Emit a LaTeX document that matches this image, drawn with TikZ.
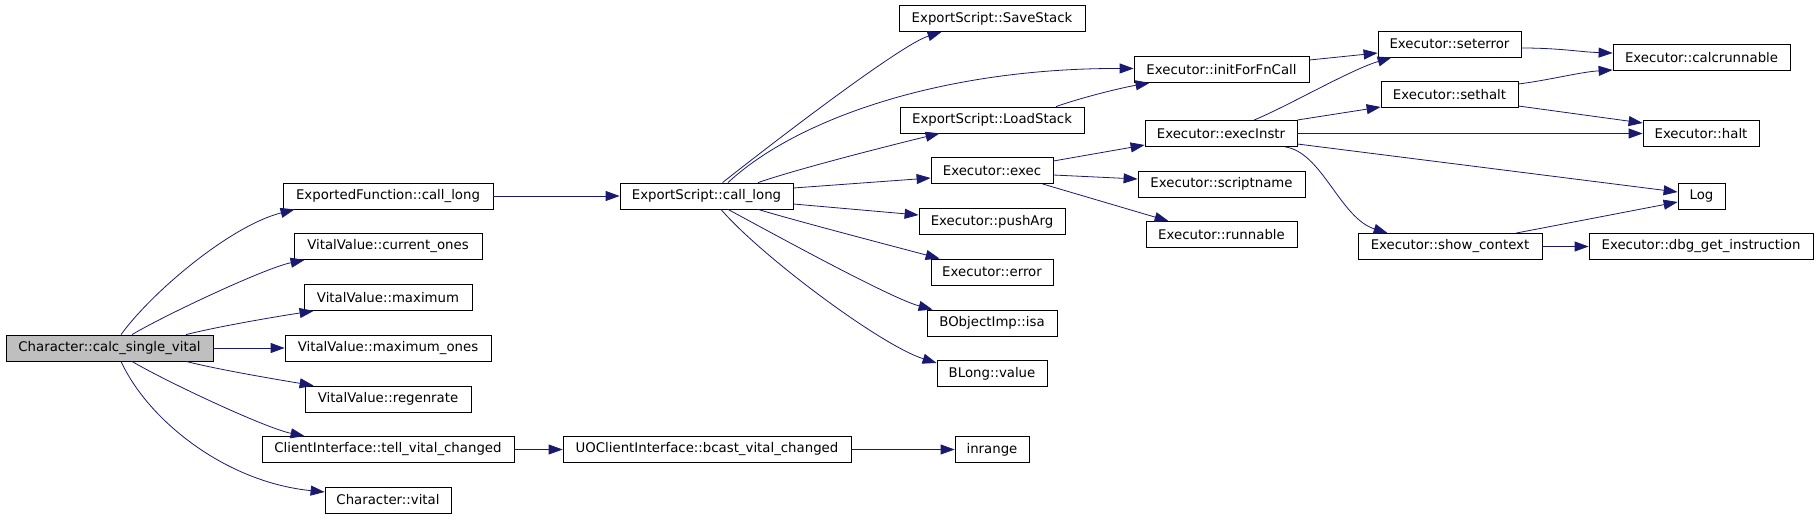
\documentclass[tikz,border=0pt]{standalone}
\usepackage{fontspec}
\setmainfont{DejaVu Sans}
\usetikzlibrary{arrows.meta}
\definecolor{edgeblue}{RGB}{25,25,112}
\definecolor{rootgray}{RGB}{191,191,191}

\begin{document}
\begin{tikzpicture}[x=1pt, y=-1pt,
                fn/.style={draw=black, line width=0.8pt, minimum height=26, inner sep=0pt, font=\fontsize{13.3}{16}\selectfont},
                root/.style={fn, fill=rootgray},
                call/.style={draw=edgeblue, line width=0.8pt, -{Triangle[length=14pt, width=10pt]}}]
                \useasboundingbox (0,0) rectangle (1819,519);
                \node[root, minimum width=207] (csv) at (109.5,348) {Character::calc\_single\_vital};
                \node[fn, minimum width=210] (efcl) at (388,196) {ExportedFunction::call\_long};
                \node[fn, minimum width=188] (vcur) at (388,246.5) {VitalValue::current\_ones};
                \node[fn, minimum width=168] (vmax) at (388,297.5) {VitalValue::maximum};
                \node[fn, minimum width=206] (vmaxo) at (388,348) {VitalValue::maximum\_ones};
                \node[fn, minimum width=166] (vreg) at (388,399) {VitalValue::regenrate};
                \node[fn, minimum width=252] (tvc) at (388,449.5) {ClientInterface::tell\_vital\_changed};
                \node[fn, minimum width=126] (cvit) at (388,500) {Character::vital};
                \node[fn, minimum width=173] (escl) at (706.5,196) {ExportScript::call\_long};
                \node[fn, minimum width=288] (bvc) at (707,449.5) {UOClientInterface::bcast\_vital\_changed};
                \node[fn, minimum width=74] (inrange) at (992,449.5) {inrange};
                \node[fn, minimum width=186] (save) at (992,18.5) {ExportScript::SaveStack};
                \node[fn, minimum width=184] (load) at (992,120) {ExportScript::LoadStack};
                \node[fn, minimum width=122] (exec) at (992,170.5) {Executor::exec};
                \node[fn, minimum width=146] (push) at (992,221.5) {Executor::pushArg};
                \node[fn, minimum width=122] (err) at (992,272) {Executor::error};
                \node[fn, minimum width=130] (isa) at (992,323) {BObjectImp::isa};
                \node[fn, minimum width=110] (blv) at (992,373.5) {BLong::value};
                \node[fn, minimum width=175] (init) at (1221.5,69.5) {Executor::initForFnCall};
                \node[fn, minimum width=152] (einstr) at (1221,133.5) {Executor::execInstr};
                \node[fn, minimum width=167] (sname) at (1221.5,184) {Executor::scriptname};
                \node[fn, minimum width=151] (runn) at (1221.5,234.5) {Executor::runnable};
                \node[fn, minimum width=143] (seterr) at (1449.5,44) {Executor::seterror};
                \node[fn, minimum width=137] (sethalt) at (1449.5,94.5) {Executor::sethalt};
                \node[fn, minimum width=184] (showc) at (1450,246.5) {Executor::show\_context};
                \node[fn, minimum width=177] (calcr) at (1701.5,57.5) {Executor::calcrunnable};
                \node[fn, minimum width=116] (halt) at (1701,133.5) {Executor::halt};
                \node[fn, minimum width=47] (log) at (1701.5,196) {Log};
                \node[fn, minimum width=224] (dbg) at (1701,246.5) {Executor::dbg\_get\_instruction};
                \draw[call] ([xshift=11.5]csv.north) .. controls (152,292) and (230,226) .. ([xshift=12]efcl.south west);
                \draw[call] ([xshift=22.5]csv.north) .. controls (165,315) and (265,268) .. ([xshift=11]vcur.south west);
                \draw[call] ([xshift=76.5]csv.north) .. controls (220,326) and (280,316) .. ([xshift=10]vmax.south west);
                \draw[call] (csv) -- (vmaxo);
                \draw[call] ([xshift=76.5]csv.south) .. controls (220,370) and (280,380) .. ([xshift=9]vreg.north west);
                \draw[call] ([xshift=22.5]csv.south) .. controls (165,381) and (265,428) .. ([xshift=43]tvc.north west);
                \draw[call] ([xshift=11.5]csv.south) .. controls (148,420) and (225,482) .. ([yshift=8]cvit.west);
                \draw[call] (efcl) -- (escl);
                \draw[call] (tvc) -- (bvc);
                \draw[call] (bvc) -- (inrange);
                \draw[call] ([xshift=16]escl.north) .. controls (770,145) and (900,45) .. ([xshift=43]save.south west);
                \draw[call] ([xshift=21.5]escl.north) .. controls (795,120) and (940,68) .. ([yshift=1]init.west);
                \draw[call] ([xshift=51.5]escl.north) .. controls (800,168) and (900,143) .. ([xshift=40]load.south west);
                \draw[call] ([yshift=8]escl.east) -- ([yshift=-7.5]exec.west);
                \draw[call] ([yshift=-8]escl.east) -- ([yshift=6.5]push.west);
                \draw[call] ([xshift=51.5]escl.south) .. controls (800,222) and (900,248) .. ([xshift=9]err.north west);
                \draw[call] ([xshift=21.5]escl.south) .. controls (770,232) and (890,298) .. ([xshift=6]isa.north west);
                \draw[call] ([xshift=14.5]escl.south) .. controls (760,255) and (880,345) .. ([yshift=10.5]blv.west);
                \draw[call] ([xshift=64]load.north) .. controls (1080,98) and (1120,88) .. ([xshift=16]init.south west);
                \draw[call] ([yshift=9.5]exec.east) -- ([yshift=-11.5]einstr.west);
                \draw[call] ([yshift=-4.5]exec.east) -- ([yshift=5]sname.west);
                \draw[call] ([xshift=-11]exec.south east) -- ([xshift=23]runn.north west);
                \draw[call] ([yshift=9.5]init.east) -- ([yshift=-9]seterr.west);
                \draw[call] ([xshift=33]einstr.north) .. controls (1290,105) and (1350,70) .. ([xshift=14]seterr.south west);
                \draw[call] ([yshift=13.5]einstr.east) -- ([yshift=-12.5]sethalt.west);
                \draw[call] (einstr) -- (halt);
                \draw[call] ([yshift=-10.5]einstr.east) -- ([yshift=4]log.west);
                \draw[call] ([xshift=64]einstr.south) .. controls (1322,152) and (1340,218) .. ([xshift=30]showc.north west);
                \draw[call] ([yshift=-4]seterr.east) .. controls (1560,48) and (1580,52) .. ([yshift=4.5]calcr.west);
                \draw[call] ([yshift=10.5]sethalt.east) .. controls (1550,80) and (1580,72) .. ([yshift=-12.5]calcr.west);
                \draw[call] ([yshift=-11.5]sethalt.east) -- ([yshift=10.5]halt.west);
                \draw[call] ([xshift=66]showc.north) -- ([yshift=-6]log.west);
                \draw[call] (showc) -- (dbg);
            \end{tikzpicture}
\end{document}
